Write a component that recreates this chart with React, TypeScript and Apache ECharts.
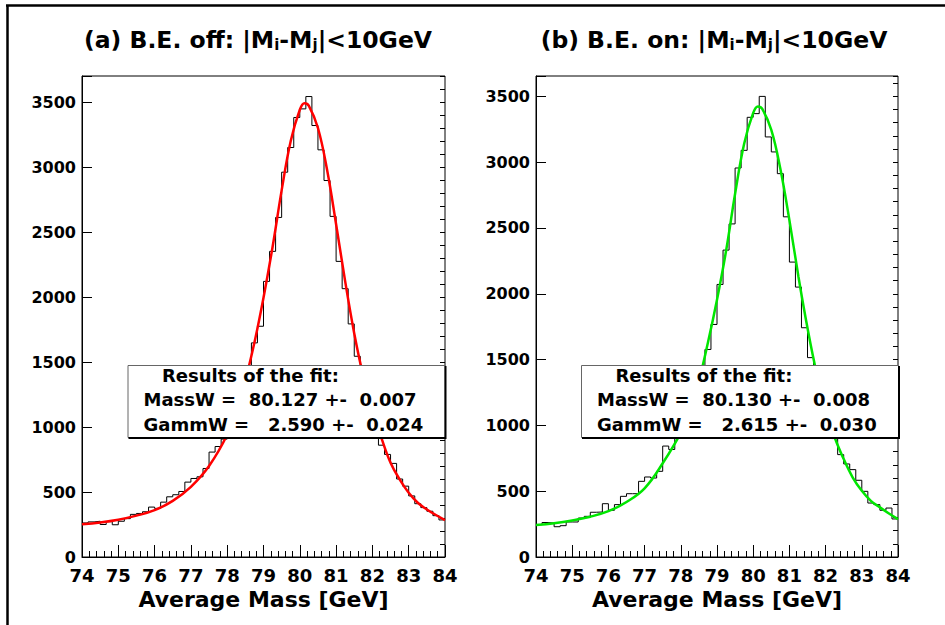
import React, { useEffect, useRef } from "react";
import * as echarts from "echarts";

// ---- data ----
const X_MIN = 74;
const X_MAX = 84;
const N_BINS = 60;

// (a) B.E. off: histogram contents (60 bins, 74-84 GeV)
const histA = [
  262, 270, 275, 250, 272, 248, 275, 295, 328, 335,
  348, 384, 374, 422, 463, 479, 504, 576, 604, 617,
  681, 807, 850, 907, 1010, 1140, 1290, 1450, 1647, 1775,
  2120, 2351, 2612, 2960, 3150, 3381, 3447, 3542, 3319, 3132,
  2896, 2620, 2274, 2064, 1793, 1544, 1360, 1160, 975, 860,
  789, 720, 600, 545, 470, 410, 380, 352, 318, 285,
];

// (b) B.E. on: histogram contents
const histB = [
  246, 262, 258, 230, 238, 266, 266, 296, 309, 340,
  342, 405, 355, 398, 461, 481, 481, 575, 608, 600,
  651, 843, 817, 905, 1000, 1120, 1270, 1420, 1577, 1767,
  2071, 2332, 2531, 2956, 3090, 3341, 3369, 3500, 3192, 3078,
  2913, 2585, 2241, 2051, 1742, 1515, 1330, 1160, 1000, 900,
  778, 707, 664, 583, 499, 410, 398, 355, 372, 289,
];

// fitted curves, read at these masses
const fitX = [
  74, 74.5, 75, 75.5, 76, 76.5, 77, 77.5, 78, 78.25, 78.5, 78.75, 79, 79.25,
  79.5, 79.75, 80, 80.13, 80.25, 80.5, 80.75, 81, 81.25, 81.5, 81.75, 82,
  82.25, 82.5, 82.75, 83, 83.25, 83.5, 83.75, 84,
];
const fitA = [
  252, 266, 287, 318, 360, 432, 540, 700, 940, 1130, 1360, 1650, 1995, 2385,
  2820, 3200, 3440, 3490, 3470, 3300, 2980, 2560, 2120, 1720, 1390, 1130,
  915, 725, 597, 494, 417, 366, 323, 284,
];
const fitB = [
  243, 257, 278, 306, 348, 418, 522, 712, 945, 1120, 1340, 1630, 1955, 2325,
  2760, 3140, 3375, 3424, 3405, 3245, 2950, 2560, 2130, 1740, 1400, 1130,
  910, 744, 604, 503, 427, 377, 331, 288,
];

const yMaxA = 3700;
const yMaxB = 3655;

const fitTextA = ["Results of the fit:", "MassW =  80.127 +-  0.007", "GammW =   2.590 +-  0.024"];
const fitTextB = ["Results of the fit:", "MassW =  80.130 +-  0.008", "GammW =   2.615 +-  0.030"];
const titleA = ["(a) B.E. off: |M", "i", "-M", "j", "|<10GeV"];
const titleB = ["(b) B.E. on: |M", "i", "-M", "j", "|<10GeV"];
const xName = "Average Mass [GeV]";

const FONT = "'DejaVu Sans', 'Liberation Sans', sans-serif";

function histData(h: number[]) {
  const w = (X_MAX - X_MIN) / N_BINS;
  const pts: number[][] = h.map((v, i) => [X_MIN + i * w, v]);
  pts.push([X_MAX, h[h.length - 1]]);
  return pts;
}

function fitData(ys: number[]) {
  return fitX.map((x, i) => [x, ys[i]]);
}

function xAxes(gridIndex: number) {
  return {
    type: "value",
    gridIndex,
    min: X_MIN,
    max: X_MAX,
    interval: 1,
    axisLine: { show: true, lineStyle: { color: "#000", width: 1 } },
    axisTick: { show: true, inside: true, length: 12, lineStyle: { color: "#000" } },
    minorTick: { show: true, splitNumber: 5, length: 6, lineStyle: { color: "#000" } },
    splitLine: { show: false },
    axisLabel: {
      color: "#000",
      fontFamily: FONT,
      fontWeight: "bold",
      fontSize: 18,
      margin: 9,
    },
    name: xName,
    nameLocation: "middle",
    nameGap: 29,
    nameTextStyle: { color: "#000", fontFamily: FONT, fontWeight: "bold", fontSize: 22 },
  };
}

function yAxesFor(gridIndex: number, max: number) {
  return [
    {
      type: "value",
      gridIndex,
      min: 0,
      max,
      interval: 500,
      axisLine: { show: true, lineStyle: { color: "#000", width: 1 } },
      axisTick: { show: true, inside: true, length: 10, lineStyle: { color: "#000" } },
      splitLine: { show: false },
      axisLabel: {
        color: "#000",
        fontFamily: FONT,
        fontWeight: "bold",
        fontSize: 16,
        margin: 6,
        formatter: (v: number) => (v % 500 === 0 ? String(v) : ""),
      },
    },
    {
      type: "value",
      gridIndex,
      min: 0,
      max,
      interval: 100,
      axisLine: { show: false },
      axisTick: { show: true, inside: true, length: 5, lineStyle: { color: "#000" } },
      splitLine: { show: false },
      axisLabel: { show: false },
    },
  ];
}

function titleGraphic(parts: string[], cx: number) {
  const main = { fontSize: 23.5, fontWeight: "bold", fontFamily: FONT, fill: "#000", lineHeight: 25, verticalAlign: "top" };
  const sub = { fontSize: 15, fontWeight: "bold", fontFamily: FONT, fill: "#000", lineHeight: 25, verticalAlign: "bottom" };
  return {
    type: "text",
    x: cx,
    y: 40,
    z: 20,
    style: {
      text: `{m|${parts[0]}}{s|${parts[1]}}{m|${parts[2]}}{s|${parts[3]}}{m|${parts[4]}}`,
      rich: { m: main, s: sub },
      align: "center",
      verticalAlign: "middle",
      fill: "#000",
      fontSize: 23.5,
      fontWeight: "bold",
      fontFamily: FONT,
    },
  };
}

function boxGraphic(x: number, lines: string[]) {
  const y = 365;
  const w = 317;
  const h = 72;
  const txt = (t: string, tx: number, ty: number) => ({
    type: "text",
    x: tx,
    y: ty,
    z: 22,
    style: {
      text: t,
      fill: "#000",
      fontSize: 18,
      fontWeight: "bold",
      fontFamily: FONT,
      align: "left",
      verticalAlign: "middle",
    },
  });
  return [
    {
      type: "rect",
      z: 20,
      shape: { x: x + 0.5, y: y + 0.5, width: w, height: h },
      style: { fill: "#fff", stroke: "#666", lineWidth: 1 },
    },
    {
      type: "polyline",
      z: 21,
      shape: { points: [[x + 1, y + h + 1], [x + w + 1, y + h + 1], [x + w + 1, y + 1]] },
      style: { stroke: "#000", lineWidth: 2, fill: "none" },
    },
    txt(lines[0], x + 34.5, 375),
    txt(lines[1], x + 16, 399.5),
    txt(lines[2], x + 16, 424.5),
  ];
}

export default function App() {
  const ref = useRef<HTMLDivElement>(null);
  useEffect(() => {
    if (!ref.current) return;
    const chart = echarts.init(ref.current, undefined, { renderer: "svg" });
    const option: any = {
      animation: false,
      backgroundColor: "#fff",
      grid: [
        { left: 82, top: 76, width: 363, height: 481, show: true, borderColor: "#000", borderWidth: 1, containLabel: false },
        { left: 536, top: 76, width: 362, height: 481, show: true, borderColor: "#000", borderWidth: 1, containLabel: false },
      ],
      xAxis: [xAxes(0), xAxes(1)],
      yAxis: [...yAxesFor(0, yMaxA), ...yAxesFor(1, yMaxB)],
      series: [
        {
          type: "line",
          name: "hist a",
          xAxisIndex: 0,
          yAxisIndex: 0,
          data: histData(histA),
          step: "end",
          showSymbol: false,
          lineStyle: { color: "#000", width: 1 },
          z: 2,
        },
        {
          type: "line",
          name: "fit a",
          xAxisIndex: 0,
          yAxisIndex: 0,
          data: fitData(fitA),
          smooth: 0.4,
          showSymbol: false,
          lineStyle: { color: "#ff0000", width: 2.5 },
          z: 3,
        },
        {
          type: "line",
          name: "hist b",
          xAxisIndex: 1,
          yAxisIndex: 2,
          data: histData(histB),
          step: "end",
          showSymbol: false,
          lineStyle: { color: "#000", width: 1 },
          z: 2,
        },
        {
          type: "line",
          name: "fit b",
          xAxisIndex: 1,
          yAxisIndex: 2,
          data: fitData(fitB),
          smooth: 0.4,
          showSymbol: false,
          lineStyle: { color: "#00e600", width: 2.5 },
          z: 3,
        },
      ],
      graphic: [
        { type: "line", z: 30, shape: { x1: 6, y1: 5.5, x2: 945, y2: 5.5 }, style: { stroke: "#000", lineWidth: 2.5 } },
        { type: "line", z: 30, shape: { x1: 7.5, y1: 5, x2: 7.5, y2: 625 }, style: { stroke: "#000", lineWidth: 2.5 } },
        titleGraphic(titleA, 258),
        titleGraphic(titleB, 714),
        ...boxGraphic(127.5, fitTextA),
        ...boxGraphic(581, fitTextB),
      ],
    };
    chart.setOption(option);
    return () => chart.dispose();
  }, []);
  return <div ref={ref} style={{ position: "absolute", left: 0, top: 0, width: 945, height: 625 }} />;
}
